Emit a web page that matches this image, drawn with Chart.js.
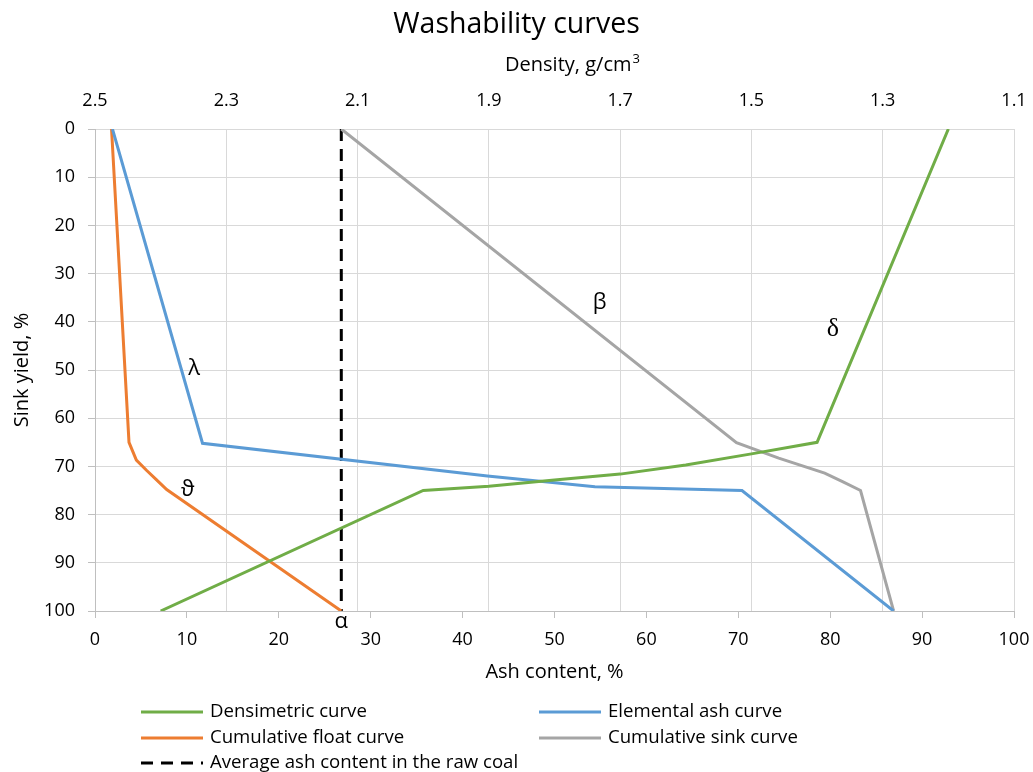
<!DOCTYPE html>
<html>
<head>
<meta charset="utf-8">
<script src="https://cdn.jsdelivr.net/npm/chart.js@4/dist/chart.umd.min.js"></script>
<style>
  body { margin: 0; background: #fff; }
</style>
</head>
<body>
<canvas id="myChart" width="1033" height="772"></canvas>
<script>
// Define the data
var chartTitle = 'Washability curves';

// densimetric curve is read against the top (density) axis
var densimetricDensity = [1.2, 1.4, 1.5, 1.6, 1.7, 1.8, 1.9, 2.0, 2.4];
var densimetricYield = [0, 65, 67.4, 69.7, 71.6, 72.8, 74.1, 75, 100];

var elementalAsh = [1.9, 11.7, 42.7, 54.4, 70.4, 86.9];
var elementalYield = [0, 65.2, 72.0, 74.2, 75.0, 100];

var floatAsh = [1.8, 3.7, 4.5, 5.6, 6.7, 7.8, 26.8];
var floatYield = [0, 65, 68.7, 70.8, 72.8, 74.8, 100];

var sinkAsh = [26.8, 69.8, 74.4, 79.4, 81.4, 83.3, 86.9];
var sinkYield = [0, 65.1, 68.3, 71.4, 73.2, 75, 100];

var averageAsh = [26.8, 26.8];
var averageYield = [0, 100];

var densityTicks = [2.5, 2.3, 2.1, 1.9, 1.7, 1.5, 1.3, 1.1];

// greek letters written next to the curves (ash %, sink yield %)
var greekText = ['\u03B2', '\u03B4', '\u03BB', '\u03D1', '\u03B1'];
var greekAsh = [54.9, 80.3, 10.8, 10.1, 26.8];
var greekYield = [36, 41.5, 49.8, 74.8, 102.3];
// End Defining data

var fontName = "'Open Sans', 'Noto Sans', sans-serif";
var gridColor = '#d9d9d9';
var axisColor = '#bfbfbf';

function pts(xs, ys) {
  return xs.map(function(x, i) { return {x: x, y: ys[i]}; });
}

var extrasPlugin = {
  id: 'extras',
  afterDraw: function(chart) {
    var ctx = chart.ctx;
    var sx = chart.scales.x, sy = chart.scales.y;
    ctx.save();
    ctx.fillStyle = '#000';
    ctx.textAlign = 'center';
    ctx.textBaseline = 'middle';
    ctx.font = '28.5px ' + fontName;
    ctx.fillText(chartTitle, chart.width / 2, 25);

    // density axis title with a raised 3
    ctx.font = '20px ' + fontName;
    var main = 'Density, g/cm';
    var w1 = ctx.measureText(main).width;
    ctx.font = '13px ' + fontName;
    var w2 = ctx.measureText('3').width;
    var startX = 572 - (w1 + w2) / 2;
    ctx.textAlign = 'left';
    ctx.font = '20px ' + fontName;
    ctx.fillText(main, startX, 65);
    ctx.font = '13px ' + fontName;
    ctx.fillText('3', startX + w1 + 1, 59);
    ctx.textAlign = 'center';

    // greek labels
    for (var i = 0; i < greekText.length; i++) {
      ctx.font = (greekText[i] == '\u03B4' ? "26px 'Liberation Serif', serif" : '22px ' + fontName);
      ctx.fillText(greekText[i], sx.getPixelForValue(greekAsh[i]), sy.getPixelForValue(greekYield[i]));
    }

    // legend, two columns
    var colX = [141, 539];
    var rowY = [712, 738, 763];
    ctx.font = '18.6px ' + fontName;
    ctx.textAlign = 'left';
    chart.data.datasets.forEach(function(ds, k) {
      var x = colX[k % 2], y = rowY[Math.floor(k / 2)];
      ctx.beginPath();
      ctx.strokeStyle = ds.borderColor;
      ctx.lineWidth = 3;
      ctx.setLineDash(ds.borderDash || []);
      ctx.moveTo(x, y);
      ctx.lineTo(x + 62, y);
      ctx.stroke();
      ctx.setLineDash([]);
      ctx.fillText(ds.label, x + 69, y);
    });
    ctx.restore();
  }
};

function noSidePadding(scale) {
  scale.paddingLeft = 0;
  scale.paddingRight = 0;
}

var ctx = document.getElementById('myChart').getContext('2d');

var myChart = new Chart(ctx, {
  type: 'scatter',
  data: {
    datasets: [{
      label: 'Densimetric curve',
      data: pts(densimetricDensity, densimetricYield),
      xAxisID: 'x2',
      borderColor: '#70ad47',
      backgroundColor: '#70ad47'
    }, {
      label: 'Elemental ash curve',
      data: pts(elementalAsh, elementalYield),
      xAxisID: 'x',
      borderColor: '#5b9bd5',
      backgroundColor: '#5b9bd5'
    }, {
      label: 'Cumulative float curve',
      data: pts(floatAsh, floatYield),
      xAxisID: 'x',
      borderColor: '#ed7d31',
      backgroundColor: '#ed7d31'
    }, {
      label: 'Cumulative sink curve',
      data: pts(sinkAsh, sinkYield),
      xAxisID: 'x',
      borderColor: '#a5a5a5',
      backgroundColor: '#a5a5a5'
    }, {
      label: 'Average ash content in the raw coal',
      data: pts(averageAsh, averageYield),
      xAxisID: 'x',
      borderColor: '#000000',
      backgroundColor: '#000000',
      borderDash: [12, 8]
    }]
  },
  options: {
    responsive: false,
    animation: false,
    showLine: true,
    elements: {
      point: { radius: 0, hoverRadius: 0 },
      line: { borderWidth: 3, tension: 0, fill: false, borderCapStyle: 'butt' }
    },
    layout: { padding: { top: 45, right: 19, bottom: 88, left: 0 } },
    plugins: {
      legend: { display: false },
      title: { display: false },
      tooltip: { enabled: false }
    },
    scales: {
      x: {
        type: 'linear',
        position: 'bottom',
        min: 0,
        max: 100,
        ticks: { stepSize: 10, padding: 11, color: '#000', font: { family: fontName, size: 18 } },
        grid: { drawOnChartArea: false, drawTicks: true, tickLength: 7, tickColor: axisColor, color: axisColor },
        border: { color: axisColor, width: 1 },
        title: { display: true, text: 'Ash content, %', color: '#000', padding: { top: 0, bottom: 0 }, font: { family: fontName, size: 20 } },
        afterFit: function(scale) { scale.height = 73; noSidePadding(scale); }
      },
      x2: {
        type: 'linear',
        position: 'top',
        reverse: true,
        min: 1.1,
        max: 2.5,
        afterBuildTicks: function(scale) {
          scale.ticks = densityTicks.map(function(v) { return {value: v}; });
        },
        ticks: {
          padding: 17, color: '#000', font: { family: fontName, size: 18 },
          callback: function(v) { return Number(v).toFixed(1); }
        },
        grid: { color: gridColor, drawTicks: false },
        border: { color: gridColor },
        title: { display: false },
        afterFit: function(scale) { scale.height = 84; noSidePadding(scale); }
      },
      y: {
        type: 'linear',
        reverse: true,
        min: 0,
        max: 100,
        ticks: { stepSize: 10, padding: 13, color: '#000', font: { family: fontName, size: 18 } },
        grid: { color: gridColor, tickColor: axisColor, tickLength: 7 },
        border: { color: axisColor },
        title: { display: true, text: 'Sink yield, %', color: '#000', padding: { top: 10, bottom: 0 }, font: { family: fontName, size: 20 } },
        afterFit: function(scale) { scale.width = 95; }
      }
    }
  },
  plugins: [extrasPlugin]
});
</script>
</body>
</html>
